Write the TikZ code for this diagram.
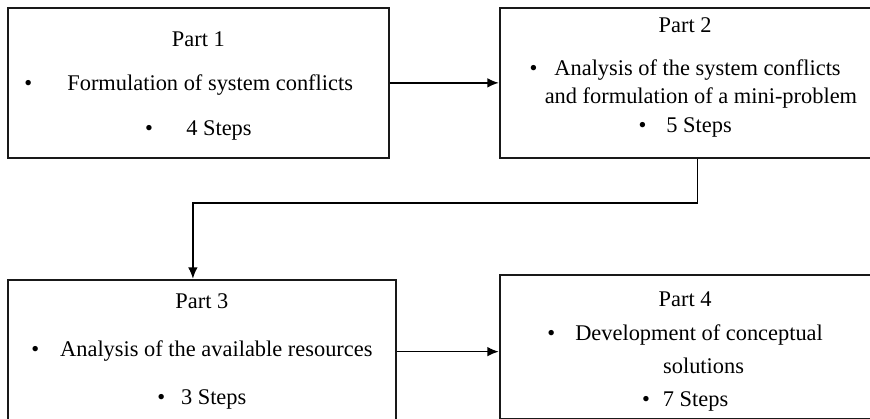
\documentclass[tikz,border=0pt]{standalone}
\usepackage{fontspec}
\setmainfont{Liberation Serif}
\usetikzlibrary{positioning,arrows.meta}

\begin{document}
\begin{tikzpicture}[
        part/.style={
                rectangle,
                draw=black!90,
                line width=1pt,
                align=center,
                inner sep=0pt,
                font=\fontsize{12.75}{16.3}\selectfont
            },
        link/.style = {->, line width=0.85pt},
        >= {Latex[length=6.5pt,width=5.5pt]}
    ]
    \useasboundingbox (0,0) rectangle (17.4,-8.38);

    \node[part, minimum width=7.62cm, minimum height=3cm, anchor=north west] (p1) at (0.14,-0.14)
        {\rule{0pt}{11.5pt}Part 1\\[9pt]
         \textbullet\hspace{20pt}Formulation of system conflicts\hspace{11pt}\mbox{}\\[9pt]
         \textbullet\hspace{19pt}4 Steps};
    \node[part, minimum width=7.42cm, minimum height=3cm] (p2) [right=2.18cm of p1]
        {Part 2\\[8.2pt]
         \textbullet\hspace{9.7pt}Analysis of the system conflicts\\
         \hspace*{18pt}and formulation of a mini-problem\\
         \textbullet\hspace{11.4pt}5 Steps\rule[-9pt]{0pt}{9pt}};
    \node[part, minimum width=7.76cm, minimum height=2.88cm, below=2.4cm of p1.south west, anchor=north west] (p3)
        {Part 3\\[11pt]
         \textbullet\hspace{12pt}Analysis of the available resources\\[11pt]
         \textbullet\hspace{9pt}3 Steps};
    \node[part, minimum width=7.42cm, minimum height=2.88cm, below=2.3cm of p2.south west, anchor=north west] (p4)
        {\rule{0pt}{14pt}Part 4\\[3pt]
         \textbullet\hspace{11.4pt}Development of conceptual\\[2.5pt]
         \hspace*{21pt}solutions\\[2.5pt]
         \textbullet\hspace{7.4pt}7 Steps};

    \coordinate[below=0.88cm of p2.south, xshift=0.25cm] (bend);

    \draw[link] (p1.east) -- (p1.east -| p2.west);
    \draw[link] ([xshift=0.25cm]p2.south) -- (bend) -| ([xshift=-0.18cm]p3.north);
    \draw[link] (p3.east) -- (p3.east -| p4.west);
\end{tikzpicture}
\end{document}
